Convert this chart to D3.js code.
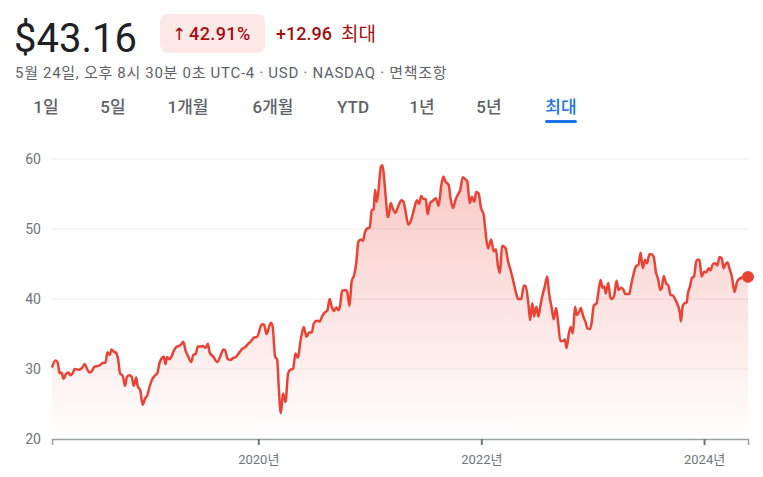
<!DOCTYPE html>
<html>
<head>
<meta charset="utf-8">
<script src="https://cdn.jsdelivr.net/npm/d3@7"></script>
<style>
  html, body { margin: 0; padding: 0; background: #fff; }
  svg { display: block; font-family: Roboto, "Noto Sans CJK KR", sans-serif; }
</style>
</head>
<body>
<div id="chart"></div>
<script>
// price history (closing prices)
const dates = [
  "2018-02-24","2018-03-07","2018-03-14","2018-03-21","2018-03-27","2018-04-03","2018-04-11","2018-04-19","2018-04-25","2018-05-03",
  "2018-05-09","2018-05-24","2018-06-03","2018-06-11","2018-06-19","2018-06-26","2018-07-05","2018-07-12","2018-07-29","2018-08-04",
  "2018-08-11","2018-08-18","2018-08-25","2018-09-01","2018-09-07","2018-09-14","2018-09-22","2018-09-29","2018-10-05","2018-10-14",
  "2018-10-21","2018-10-28","2018-11-05","2018-11-12","2018-11-19","2018-11-27","2018-12-02","2018-12-10","2018-12-18","2018-12-26",
  "2019-01-02","2019-01-10","2019-01-18","2019-01-26","2019-02-04","2019-02-11","2019-02-18","2019-02-25","2019-03-03","2019-03-08",
  "2019-03-16","2019-03-23","2019-03-30","2019-04-09","2019-04-17","2019-04-25","2019-04-30","2019-05-08","2019-05-16","2019-05-26",
  "2019-06-02","2019-06-10","2019-06-17","2019-06-25","2019-07-03","2019-07-12","2019-07-20","2019-07-26","2019-08-06","2019-08-20",
  "2019-08-31","2019-09-09","2019-09-14","2019-09-23","2019-10-03","2019-10-08","2019-10-19","2019-10-30","2019-11-10","2019-11-21",
  "2019-11-29","2019-12-07","2019-12-18","2019-12-28","2020-01-13","2020-01-20","2020-01-28","2020-02-11","2020-02-17","2020-02-25",
  "2020-03-03","2020-03-08","2020-03-15","2020-03-22","2020-03-30","2020-04-08","2020-04-16","2020-04-24","2020-05-02","2020-05-10",
  "2020-05-18","2020-05-29","2020-06-07","2020-06-15","2020-06-24","2020-07-01","2020-07-10","2020-07-21","2020-07-28","2020-08-06",
  "2020-08-14","2020-08-22","2020-08-28","2020-09-05","2020-09-13","2020-09-19","2020-09-25","2020-10-02","2020-10-13","2020-10-18",
  "2020-10-26","2020-11-02","2020-11-10","2020-11-17","2020-11-24","2020-12-02","2020-12-09","2020-12-16","2020-12-23","2020-12-31",
  "2021-01-07","2021-01-13","2021-01-18","2021-01-23","2021-01-28","2021-02-06","2021-02-11","2021-02-17","2021-02-21","2021-03-01",
  "2021-03-05","2021-03-10","2021-03-17","2021-03-25","2021-04-05","2021-04-14","2021-04-21","2021-04-28","2021-05-07","2021-05-16",
  "2021-05-26","2021-06-04","2021-06-11","2021-06-18","2021-06-25","2021-07-03","2021-07-09","2021-07-17","2021-07-28","2021-08-05",
  "2021-08-14","2021-08-23","2021-08-30","2021-09-05","2021-09-16","2021-09-22","2021-09-30","2021-10-08","2021-10-16","2021-10-24",
  "2021-11-01","2021-11-10","2021-11-16","2021-11-24","2021-12-01","2021-12-09","2021-12-15","2021-12-23","2021-12-31","2022-01-09",
  "2022-01-14","2022-01-23","2022-02-02","2022-02-11","2022-02-18","2022-02-24","2022-03-03","2022-03-10","2022-03-21","2022-03-30",
  "2022-04-07","2022-04-15","2022-04-24","2022-05-02","2022-05-12","2022-05-20","2022-05-26","2022-06-04","2022-06-10","2022-06-17",
  "2022-06-23","2022-06-30","2022-07-07","2022-07-15","2022-07-22","2022-07-28","2022-08-05","2022-08-11","2022-08-19","2022-08-26",
  "2022-09-03","2022-09-10","2022-09-17","2022-09-26","2022-10-02","2022-10-07","2022-10-15","2022-10-21","2022-10-28","2022-11-04",
  "2022-11-10","2022-11-18","2022-11-23","2022-12-01","2022-12-08","2022-12-15","2022-12-23","2022-12-28","2023-01-05","2023-01-14",
  "2023-01-19","2023-01-27","2023-02-02","2023-02-08","2023-02-13","2023-02-21","2023-02-27","2023-03-04","2023-03-13","2023-03-20",
  "2023-03-27","2023-04-04","2023-04-12","2023-04-18","2023-05-01","2023-05-06","2023-05-14","2023-05-23","2023-05-31","2023-06-07",
  "2023-06-14","2023-06-22","2023-06-28","2023-07-06","2023-07-13","2023-07-20","2023-07-27","2023-08-04","2023-08-10","2023-08-15",
  "2023-08-22","2023-08-29","2023-09-07","2023-09-13","2023-09-21","2023-09-28","2023-10-07","2023-10-14","2023-10-17","2023-10-23",
  "2023-10-29","2023-11-05","2023-11-09","2023-11-16","2023-11-22","2023-11-29","2023-12-06","2023-12-11","2023-12-17","2023-12-24",
  "2024-01-01","2024-01-08","2024-01-16","2024-01-22","2024-01-30","2024-02-07","2024-02-13","2024-02-21","2024-02-28","2024-03-05",
  "2024-03-13","2024-03-18","2024-03-24","2024-04-01","2024-04-10","2024-04-17","2024-04-26","2024-05-07","2024-05-24"
];

const prices = [
  30.2, 31.2, 31.0, 29.4, 29.5, 28.6, 29.3, 29.5, 29.1, 29.4,
  30.0, 29.9, 30.2, 30.7, 30.0, 29.5, 29.7, 30.3, 30.5, 30.7,
  30.9, 30.9, 32.4, 32.0, 32.8, 32.5, 32.3, 31.3, 29.4, 29.0,
  27.6, 28.9, 29.1, 28.9, 27.6, 28.8, 27.5, 27.0, 24.9, 25.8,
  26.2, 27.5, 28.5, 29.0, 29.4, 30.8, 31.5, 31.8, 30.7, 31.7,
  31.4, 31.8, 32.6, 33.2, 33.3, 33.6, 33.9, 32.6, 31.8, 31.0,
  32.0, 32.2, 33.2, 33.2, 33.3, 33.0, 33.6, 32.3, 31.8, 31.0,
  32.0, 32.8, 32.7, 31.4, 31.3, 31.5, 31.7, 32.3, 32.9, 33.2,
  33.6, 33.9, 34.5, 34.6, 36.4, 36.3, 35.0, 36.6, 36.1, 31.8,
  31.3, 27.5, 23.7, 26.5, 25.3, 29.4, 29.9, 30.0, 32.2, 31.6,
  33.9, 36.0, 34.6, 35.2, 35.2, 36.5, 36.9, 36.8, 37.5, 38.1,
  38.3, 40.0, 39.0, 38.3, 38.8, 38.4, 39.0, 41.2, 41.3, 41.1,
  39.0, 42.5, 43.4, 45.1, 48.2, 48.5, 48.3, 49.6, 50.1, 50.2,
  52.7, 52.8, 55.6, 53.9, 55.1, 58.9, 59.1, 57.0, 54.9, 51.7,
  52.3, 53.7, 52.9, 52.3, 53.4, 54.1, 53.9, 52.4, 50.6, 51.3,
  52.9, 54.1, 53.6, 54.7, 54.3, 54.3, 52.1, 53.7, 54.1, 54.4,
  53.3, 56.3, 57.5, 56.8, 56.3, 54.4, 53.0, 54.1, 54.9, 55.6,
  57.4, 57.1, 56.8, 53.7, 54.6, 53.9, 55.3, 55.1, 53.0, 52.0,
  49.9, 47.2, 48.5, 46.8, 47.1, 44.9, 43.7, 47.6, 47.3, 45.3,
  44.1, 42.7, 41.0, 40.0, 40.0, 41.9, 41.9, 39.4, 37.0, 39.4,
  37.5, 38.9, 37.5, 39.4, 40.8, 41.8, 43.2, 40.8, 38.9, 37.1,
  38.7, 36.5, 34.0, 34.0, 34.2, 33.0, 35.1, 36.0, 35.1, 38.9,
  37.7, 38.2, 38.7, 37.5, 36.8, 35.8, 35.7, 36.5, 39.1, 39.4,
  40.8, 42.7, 41.6, 41.8, 40.8, 42.3, 40.4, 40.0, 40.6, 42.6,
  41.3, 41.6, 41.3, 40.7, 40.7, 41.8, 43.4, 44.7, 44.9, 46.6,
  44.4, 45.6, 45.1, 46.4, 46.4, 46.0, 43.9, 42.7, 41.3, 41.5,
  43.3, 42.3, 41.8, 40.6, 40.5, 40.0, 39.1, 37.9, 36.8, 39.0,
  39.4, 39.5, 40.8, 41.8, 43.0, 43.2, 45.3, 45.6, 45.6, 43.2,
  43.9, 43.8, 44.4, 44.1, 45.0, 45.1, 44.8, 46.0, 45.8, 44.4,
  45.1, 45.2, 44.4, 43.2, 41.0, 42.3, 42.9, 43.1, 43.16
];

const yTicks = [20, 30, 40, 50, 60];
const xTickYears = ["2020-01-01", "2022-01-01", "2024-01-01"];
const tabs = ["1일", "5일", "1개월", "6개월", "YTD", "1년", "5년", "최대"];
const tabCenters = [46, 113, 188, 273, 353, 422, 489, 561];

const W = 763, H = 477;
const margin = {top: 159, right: 15, bottom: 38, left: 52};
const width = W - margin.left - margin.right,
      height = H - margin.top - margin.bottom;

const parseDate = d3.timeParse("%Y-%m-%d");
const data = dates.map(function(d, i) { return {date: parseDate(d), value: prices[i]}; });

const red = "#ea4335", darkRed = "#a50e0e", grey = "#70757a";

const svg = d3.select("#chart").append("svg")
    .attr("width", W)
    .attr("height", H);

// ---- header ----
const last = prices[prices.length - 1], first = prices[0];
svg.append("text")
    .attr("x", 14).attr("y", 52)
    .style("font-size", "40px").style("fill", "#202124")
    .text("$" + last.toFixed(2));

svg.append("rect")
    .attr("x", 160).attr("y", 14).attr("width", 105).attr("height", 39)
    .attr("rx", 8).style("fill", "#fce8e6");
svg.append("text")
    .attr("x", 172).attr("y", 40)
    .style("font-size", "17px").style("fill", darkRed)
    .style("font-family", "DejaVu Sans")
    .text("↑");
svg.append("text")
    .attr("x", 189).attr("y", 40)
    .style("font-size", "18px").style("font-weight", 500).style("fill", darkRed)
    .style("letter-spacing", "0.4px")
    .text(((last - first) / first * 100).toFixed(2) + "%");
svg.append("text")
    .attr("x", 276).attr("y", 40)
    .style("font-size", "18px").style("font-weight", 500).style("fill", darkRed)
    .text("+" + (last - first).toFixed(2));
svg.append("text")
    .attr("x", 341).attr("y", 41)
    .style("font-size", "19px").style("fill", darkRed)
    .text("최대");

svg.append("text")
    .attr("x", 15).attr("y", 78)
    .style("font-size", "15px").style("fill", "#5f6368")
    .style("letter-spacing", "0.7px")
    .text("5월 24일, 오후 8시 30분 0초 UTC-4 · USD · NASDAQ · 면책조항");

// tabs
svg.selectAll(".tab")
    .data(tabs)
    .enter().append("text")
    .attr("class", "tab")
    .attr("x", function(d, i) { return tabCenters[i]; })
    .attr("y", 113)
    .attr("text-anchor", "middle")
    .style("font-size", "17px").style("font-weight", 500)
    .style("fill", function(d, i) { return i === tabs.length - 1 ? "#1a73e8" : "#5f6368"; })
    .text(function(d) { return d; });
svg.append("rect")
    .attr("x", 545).attr("y", 120).attr("width", 32).attr("height", 3)
    .attr("rx", 1.5).style("fill", "#1a73e8");

// ---- chart ----
const g = svg.append("g")
    .attr("transform", "translate(" + margin.left + "," + margin.top + ")");

const x = d3.scaleTime()
    .domain(d3.extent(data, function(d) { return d.date; }))
    .range([0, width]);
const y = d3.scaleLinear()
    .domain([20, 60])
    .range([height, 0]);

// gridlines
g.selectAll(".grid")
    .data(yTicks.filter(function(t) { return t > 20; }))
    .enter().append("line")
    .attr("class", "grid")
    .attr("x1", 0).attr("x2", width)
    .attr("y1", function(d) { return y(d); })
    .attr("y2", function(d) { return y(d); })
    .style("stroke", "#eceef0").style("stroke-width", 1);

// y labels
g.selectAll(".ylab")
    .data(yTicks)
    .enter().append("text")
    .attr("class", "ylab")
    .attr("x", -11)
    .attr("y", function(d) { return y(d); })
    .attr("dy", "0.35em")
    .attr("text-anchor", "end")
    .style("font-size", "14px").style("fill", grey)
    .text(function(d) { return d; });

// area gradient
const grad = svg.append("defs").append("linearGradient")
    .attr("id", "fillGrad")
    .attr("gradientUnits", "userSpaceOnUse")
    .attr("x1", 0).attr("x2", 0)
    .attr("y1", y(60)).attr("y2", y(20));
grad.append("stop").attr("offset", "0%").attr("stop-color", red).attr("stop-opacity", 0.3);
grad.append("stop").attr("offset", "100%").attr("stop-color", red).attr("stop-opacity", 0);

const area = d3.area()
    .x(function(d) { return x(d.date); })
    .y0(height)
    .y1(function(d) { return y(d.value); })
    .curve(d3.curveMonotoneX);
const line = d3.line()
    .x(function(d) { return x(d.date); })
    .y(function(d) { return y(d.value); })
    .curve(d3.curveMonotoneX);

g.append("path")
    .datum(data)
    .attr("d", area)
    .style("fill", "url(#fillGrad)");

// x axis
const xAxis = d3.axisBottom(x)
    .tickValues(xTickYears.map(parseDate))
    .tickSize(6)
    .tickPadding(10)
    .tickFormat(d3.timeFormat("%Y년"));
const ax = g.append("g")
    .attr("transform", "translate(0," + height + ")")
    .call(xAxis);
ax.select(".domain").style("stroke", "#9aa0a6").style("stroke-width", 1.5);
ax.selectAll(".tick line").style("stroke", "#70757a").style("stroke-width", 2);
ax.selectAll(".tick text")
    .style("font-size", "13px").style("fill", grey)
    .style("font-family", "Roboto, 'Noto Sans CJK KR', sans-serif");

g.append("path")
    .datum(data)
    .attr("d", line)
    .style("fill", "none")
    .style("stroke", red)
    .style("stroke-width", 2.5)
    .style("stroke-linejoin", "round");

// last point
g.append("circle")
    .attr("cx", x(data[data.length - 1].date))
    .attr("cy", y(last))
    .attr("r", 6)
    .style("fill", red);
</script>
</body>
</html>
